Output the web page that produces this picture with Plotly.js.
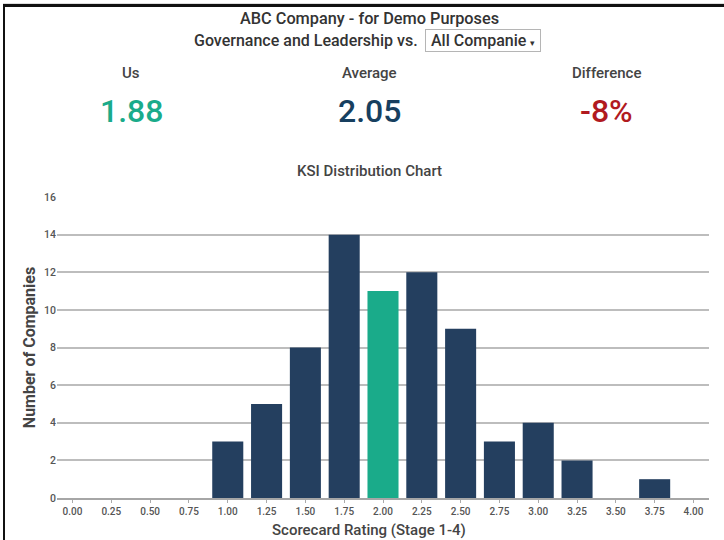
<!DOCTYPE html>
<html>
<head>
<meta charset="utf-8">
<script src="https://cdn.plot.ly/plotly-3.0.1.min.js"></script>
<style>
  html, body { margin: 0; padding: 0; background: #fff; }
  #wrap { position: relative; width: 724px; height: 540px; overflow: hidden; }
  #chart { position: absolute; left: 0; top: 0; width: 724px; height: 540px; }
  #frame {
    position: absolute; left: 3px; top: 4px; width: 730px; height: 600px;
    border-top: 3px solid #111; border-left: 2px solid #111;
    box-shadow: 0 -1px 0 #ddd; pointer-events: none;
  }
</style>
</head>
<body>
<div id="wrap">
  <div id="chart"></div>
  <div id="frame"></div>
</div>
<script>
// Scorecard rating buckets and number of companies in each
const ratings = [0.00, 0.25, 0.50, 0.75, 1.00, 1.25, 1.50, 1.75, 2.00, 2.25, 2.50, 2.75, 3.00, 3.25, 3.50, 3.75, 4.00];
const companyCounts = [0, 0, 0, 0, 3, 5, 8, 14, 11, 12, 9, 3, 4, 2, 0, 1, 0];
const ratingLabels = ['0.00', '0.25', '0.50', '0.75', '1.00', '1.25', '1.50', '1.75', '2.00', '2.25', '2.50', '2.75', '3.00', '3.25', '3.50', '3.75', '4.00'];

// Headline scores
const usScore = 1.88;
const averageScore = 2.05;
const differenceLabel = '-8%';
const ownBucket = 2.00;

const NAVY = '#243f5f';
const TEAL = '#1aab8a';
const barColors = ratings.map(r => (r === ownBucket ? TEAL : NAVY));

// Plot area in pixels
const W = 724, H = 540;
const L = 57, R = 15, T = 197, B = 42;
const plotW = W - L - R, plotH = H - T - B;
const px = x => (x - L) / plotW;          // page x -> paper x
const py = y => (H - B - y) / plotH;      // page y -> paper y

const FONT = 'Roboto, "Open Sans", Arial, sans-serif';

function label(text, x, y, size, color, weight, extra) {
  return Object.assign({
    xref: 'paper', yref: 'paper', x: px(x), y: py(y),
    xanchor: 'center', yanchor: 'middle', showarrow: false, text: text,
    font: { family: FONT, size: size, color: color, weight: weight || 400 }
  }, extra || {});
}

const annotations = [
  label('ABC Company - for Demo Purposes', 369, 18, 16.3, '#333', 500),
  label('Governance and Leadership vs.', 306, 41, 16, '#333', 500),
  label(' All Companie <span style="font-size:9px">▾</span> ', 483, 41, 16, '#333', 500,
        { bordercolor: '#b5b5b5', borderwidth: 1, borderpad: 1, bgcolor: '#fff' }),
  label('Us', 131, 73, 15, '#444', 500),
  label('Average', 369, 73, 15, '#444', 500),
  label('Difference', 606, 73, 15, '#444', 500),
  label(usScore.toFixed(2), 131, 111, 32, TEAL, 500),
  label(averageScore.toFixed(2), 369, 111, 32, '#173f5f', 500),
  label(differenceLabel, 606, 111, 32, '#b11a1f', 500),
  label('KSI Distribution Chart', 369, 171, 15, '#444', 500),
  label('Scorecard Rating (Stage 1-4)', 369, 530, 15, '#444', 500)
];

const trace = {
  type: 'bar',
  x: ratings,
  y: companyCounts,
  marker: { color: barColors, line: { width: 0 } },
  hoverinfo: 'x+y'
};

const layout = {
  width: W, height: H,
  margin: { l: L, r: R, t: T, b: B, pad: 0 },
  paper_bgcolor: '#fff', plot_bgcolor: '#fff',
  showlegend: false,
  bargap: 0.2,
  font: { family: FONT, color: '#555' },
  xaxis: {
    range: [-0.1, 4.1], fixedrange: true, automargin: false,
    tickvals: ratings, ticktext: ratingLabels,
    tickfont: { family: FONT, size: 10, color: '#555', weight: 500 },
    ticks: 'outside', ticklen: 3, tickcolor: '#aaa', tickwidth: 1,
    showline: true, linecolor: '#a6a6a6', linewidth: 2,
    showgrid: false, zeroline: false
  },
  yaxis: {
    range: [0, 16], dtick: 2, fixedrange: true, automargin: false,
    tickfont: { family: FONT, size: 10.5, color: '#555', weight: 500 },
    showgrid: true, gridcolor: '#bdbdbd', gridwidth: 2,
    zeroline: false, ticks: '', showline: false,
    title: { text: 'Number of Companies', standoff: 4,
             font: { family: FONT, size: 16, color: '#444', weight: 700 } }
  },
  annotations: annotations
};

Plotly.newPlot('chart', [trace], layout, { displayModeBar: false, staticPlot: true });
</script>
</body>
</html>
